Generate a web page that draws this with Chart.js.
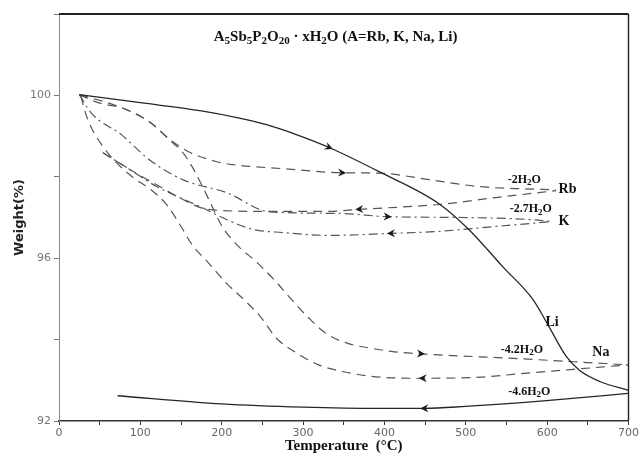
<!DOCTYPE html>
<html><head><meta charset="utf-8">
<script src="https://cdn.jsdelivr.net/npm/chart.js@4.4.1/dist/chart.umd.min.js"></script>
<style>html,body{margin:0;padding:0;background:#fff;}</style>
</head><body>
<canvas id="c" width="641" height="456"></canvas>
<script>
// ---- data (temperature °C, weight %) ----
const liHeatT = [25, 100, 175, 220, 255, 290, 332, 394, 467, 504, 545, 582, 600, 623, 640, 665, 700];
const liHeatW = [100.02, 99.82, 99.62, 99.45, 99.28, 99.05, 98.72, 98.12, 97.34, 96.7, 95.8, 95.0, 94.4, 93.6, 93.24, 92.97, 92.75];
const liCoolT = [72, 200, 300, 394, 449, 500, 599, 700];
const liCoolW = [92.62, 92.42, 92.34, 92.31, 92.31, 92.36, 92.5, 92.68];

const rbHeatT = [25, 50, 78, 111, 140, 160, 194, 213, 275, 348, 394, 455, 516, 562, 611];
const rbHeatW = [100.02, 99.81, 99.69, 99.35, 98.86, 98.61, 98.37, 98.3, 98.2, 98.1, 98.09, 97.93, 97.76, 97.71, 97.68];
const rbCoolT = [54, 87, 115, 148, 173, 201, 259, 332, 369, 467, 537, 611];
const rbCoolW = [98.59, 98.18, 97.86, 97.49, 97.25, 97.17, 97.15, 97.15, 97.2, 97.32, 97.49, 97.66];

const kHeatT = [25, 40, 77, 111, 152, 206, 259, 345, 404, 496, 578, 606];
const kHeatW = [100.02, 99.56, 99.03, 98.42, 97.93, 97.61, 97.14, 97.1, 97.02, 97.0, 96.95, 96.9];
const kCoolT = [54, 87, 120, 173, 206, 238, 275, 332, 408, 467, 537, 606];
const kCoolW = [98.59, 98.18, 97.76, 97.27, 96.95, 96.71, 96.63, 96.56, 96.61, 96.66, 96.78, 96.9];

const naHeatT = [25, 78, 111, 136, 152, 165, 184, 200, 219, 242, 265, 286, 307, 329, 356, 386, 412, 445, 566, 700];
const naHeatW = [100.02, 99.69, 99.35, 98.9, 98.6, 98.2, 97.45, 96.8, 96.32, 95.92, 95.46, 94.98, 94.53, 94.14, 93.9, 93.78, 93.7, 93.65, 93.53, 93.38];
const naCoolT = [27, 32, 40, 62, 90, 112, 132, 150, 164, 184, 205, 229, 249, 267, 292, 319, 350, 379, 410, 445, 520, 566, 700];
const naCoolW = [99.98, 99.6, 99.2, 98.54, 98.0, 97.7, 97.32, 96.78, 96.32, 95.88, 95.4, 94.95, 94.53, 94.04, 93.67, 93.38, 93.21, 93.11, 93.06, 93.05, 93.08, 93.16, 93.38];

// tick settings
const xTickValues = [0, 100, 200, 300, 400, 500, 600, 700];
const yTickLabels = [92, 96, 100];

// arrows: series key, temperature, direction (+1 heating, -1 cooling)
const arrowSeries = ['liHeat', 'rbHeat', 'rbCool', 'kHeat', 'kCool', 'naHeat', 'naCool', 'liCool'];
const arrowTemp = [332, 348, 369, 404, 408, 445, 447, 449];
const arrowDir = [1, 1, -1, 1, -1, 1, -1, -1];

// annotations: text (_n = subscript), temperature, weight, align
const noteText = ['-2H_2O', 'Rb', '-2.7H_2O', 'K', 'Li', '-4.2H_2O', 'Na', '-4.6H_2O'];
const noteT = [572, 614, 580, 614, 606, 569, 666, 578];
const noteW = [97.93, 97.68, 97.2, 96.9, 94.43, 93.75, 93.68, 92.72];
const noteAlign = ['center', 'left', 'center', 'left', 'center', 'center', 'center', 'center'];
const noteBig = [false, true, false, true, true, false, true, false];

const titleText = 'A_5Sb_5P_2O_20 · xH_2O (A=Rb, K, Na, Li)';
const titleT = 340, titleW = 101.43;

const mk = (T, W) => T.map((t, i) => ({x: t, y: W[i]}));
const DASH = [9, 6];
const DASHDOT = [9, 4, 2, 4];
const seriesDefs = [
  {key: 'liHeat', data: mk(liHeatT, liHeatW), color: '#262626', dash: [], w: 1.3},
  {key: 'liCool', data: mk(liCoolT, liCoolW), color: '#262626', dash: [], w: 1.3},
  {key: 'rbHeat', data: mk(rbHeatT, rbHeatW), color: '#555', dash: DASH, w: 1.2},
  {key: 'rbCool', data: mk(rbCoolT, rbCoolW), color: '#555', dash: DASH, w: 1.2},
  {key: 'kHeat', data: mk(kHeatT, kHeatW), color: '#555', dash: DASHDOT, w: 1.2},
  {key: 'kCool', data: mk(kCoolT, kCoolW), color: '#555', dash: DASHDOT, w: 1.2},
  {key: 'naHeat', data: mk(naHeatT, naHeatW), color: '#555', dash: DASH, w: 1.2},
  {key: 'naCool', data: mk(naCoolT, naCoolW), color: '#555', dash: DASH, w: 1.2},
];

function interp(data, t) {
  for (let i = 0; i < data.length - 1; i++) {
    const a = data[i], b = data[i + 1];
    if (t >= a.x && t <= b.x) return a.y + (b.y - a.y) * (t - a.x) / (b.x - a.x);
  }
  return data[data.length - 1].y;
}

// draw text with "_digits" as subscripts
function parseRich(str) {
  const parts = [];
  let buf = '';
  for (let i = 0; i < str.length; i++) {
    if (str[i] === '_') {
      if (buf) parts.push([buf, false]);
      buf = '';
      let j = i + 1, sub = '';
      while (j < str.length && /[0-9]/.test(str[j])) { sub += str[j]; j++; }
      parts.push([sub, true]);
      i = j - 1;
    } else buf += str[i];
  }
  if (buf) parts.push([buf, false]);
  return parts;
}
function drawRich(ctx, str, x, y, size, align, weight) {
  const parts = parseRich(str);
  const fBase = `${weight} ${size}px "Liberation Serif"`;
  const fSub = `${weight} ${Math.round(size * 0.72)}px "Liberation Serif"`;
  let total = 0;
  parts.forEach(p => { ctx.font = p[1] ? fSub : fBase; total += ctx.measureText(p[0]).width; });
  let cx = align === 'center' ? x - total / 2 : (align === 'right' ? x - total : x);
  ctx.textAlign = 'left';
  ctx.textBaseline = 'middle';
  parts.forEach(p => {
    ctx.font = p[1] ? fSub : fBase;
    ctx.fillText(p[0], cx, p[1] ? y + size * 0.28 : y);
    cx += ctx.measureText(p[0]).width;
  });
}

const decorPlugin = {
  id: 'decor',
  afterDatasetsDraw(chart) {
    const {ctx, chartArea: ca, scales: {x, y}} = chart;
    ctx.save();
    // frame top and right
    ctx.strokeStyle = '#222';
    ctx.lineWidth = 2;
    ctx.beginPath();
    ctx.moveTo(ca.left, ca.top); ctx.lineTo(ca.right, ca.top);
    ctx.stroke();
    ctx.lineWidth = 1.4;
    ctx.beginPath();
    ctx.moveTo(ca.right, ca.top); ctx.lineTo(ca.right, ca.bottom);
    ctx.stroke();
    // arrows
    arrowSeries.forEach((key, i) => {
      const s = seriesDefs.find(d => d.key === key);
      const t = arrowTemp[i];
      const px = x.getPixelForValue(t), py = y.getPixelForValue(interp(s.data, t));
      const p1x = x.getPixelForValue(t - 6), p1y = y.getPixelForValue(interp(s.data, t - 6));
      const p2x = x.getPixelForValue(t + 6), p2y = y.getPixelForValue(interp(s.data, t + 6));
      let ang = Math.atan2(p2y - p1y, p2x - p1x);
      if (arrowDir[i] < 0) ang += Math.PI;
      ctx.save();
      ctx.translate(px, py);
      ctx.rotate(ang);
      ctx.fillStyle = '#1a1a1a';
      ctx.beginPath();
      ctx.moveTo(4, 0);
      ctx.lineTo(-4, -4);
      ctx.lineTo(-1.5, 0);
      ctx.lineTo(-4, 4);
      ctx.closePath();
      ctx.fill();
      ctx.restore();
    });
    // annotations
    ctx.fillStyle = '#111';
    noteText.forEach((txt, i) => {
      drawRich(ctx, txt, x.getPixelForValue(noteT[i]), y.getPixelForValue(noteW[i]),
        noteBig[i] ? 14 : 12, noteAlign[i], 'bold');
    });
    // title
    drawRich(ctx, titleText, x.getPixelForValue(titleT), y.getPixelForValue(titleW), 15, 'center', 'bold');
    ctx.restore();
  }
};

new Chart(document.getElementById('c'), {
  type: 'scatter',
  data: {
    datasets: seriesDefs.map(s => ({
      label: s.key,
      data: s.data,
      showLine: true,
      borderColor: s.color,
      borderWidth: s.w,
      borderDash: s.dash,
      pointRadius: 0,
      fill: false,
      cubicInterpolationMode: 'monotone'
    }))
  },
  options: {
    responsive: false,
    animation: false,
    devicePixelRatio: 1,
    layout: {padding: {top: 14, right: 11, left: 0, bottom: 0}},
    plugins: {legend: {display: false}, tooltip: {enabled: false}},
    scales: {
      x: {
        type: 'linear', min: 0, max: 700,
        afterFit: s => { s.height = 35; },
        ticks: {stepSize: 50, autoSkip: false, maxRotation: 0, padding: 2,
          callback: v => xTickValues.includes(v) ? String(v) : '',
          color: '#666', font: {family: 'DejaVu Sans', size: 11}},
        grid: {drawOnChartArea: false, drawTicks: true, tickLength: 4, color: '#333'},
        border: {display: true, color: '#333', width: 1.5},
        title: {display: true, text: 'Temperature  (°C)', color: '#111',
          font: {family: 'Liberation Serif', size: 15, weight: 'bold'}, padding: {top: 0, bottom: 1}}
      },
      y: {
        type: 'linear', min: 92, max: 102,
        afterFit: s => { s.width = 59; },
        ticks: {stepSize: 2, autoSkip: false, padding: 3,
          callback: v => yTickLabels.includes(v) ? String(v) : '',
          color: '#777', font: {family: 'DejaVu Sans', size: 11}},
        grid: {drawOnChartArea: false, drawTicks: true, tickLength: 5, color: '#777'},
        border: {display: true, color: '#888', width: 1},
        title: {display: true, text: 'Weight(%)', color: '#222',
          font: {family: 'DejaVu Sans', size: 13, weight: 'bold'}, padding: {top: 12, bottom: 0}}
      }
    }
  },
  plugins: [decorPlugin]
});
</script>
</body></html>
